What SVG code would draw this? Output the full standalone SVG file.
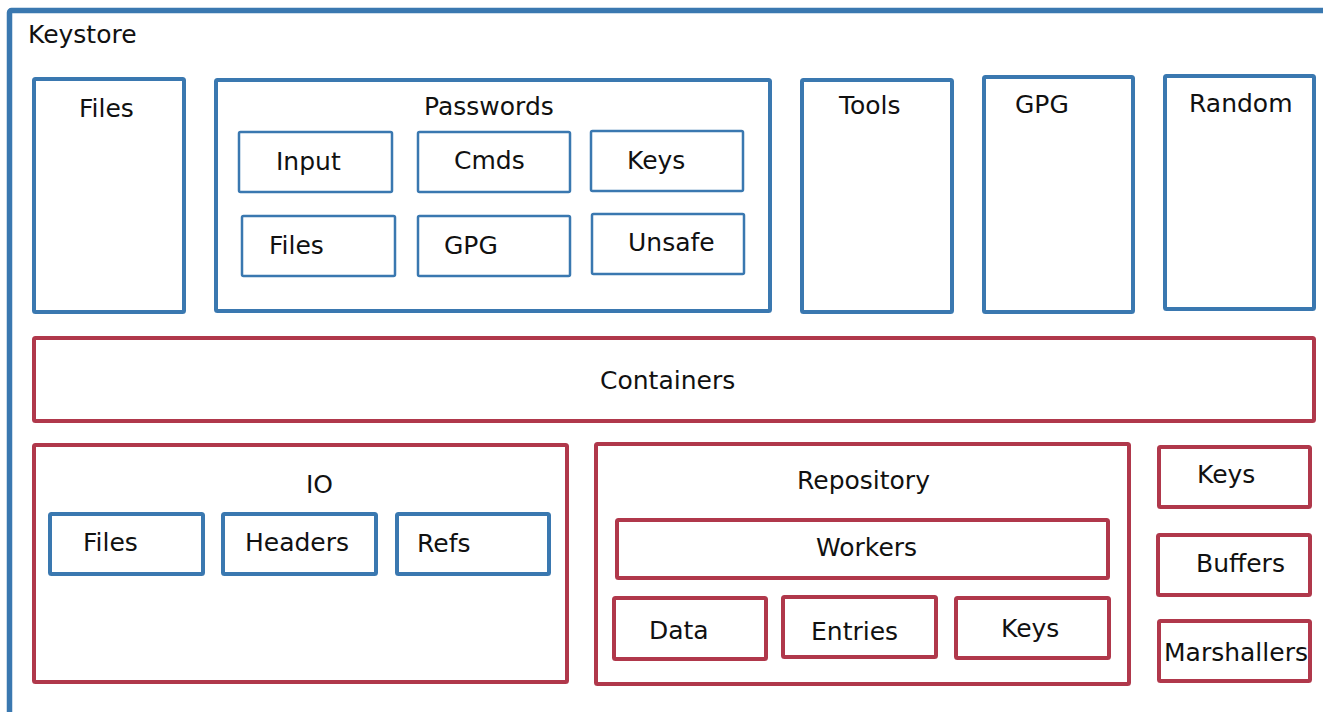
<svg xmlns="http://www.w3.org/2000/svg" width="1323" height="712" viewBox="0 0 1323 712">
  <style>
    text { font-family: "DejaVu Sans", "Liberation Sans", sans-serif; font-size: 25px; fill: #111; }
    .b { fill: #fff; stroke: #3a78b0; stroke-width: 4; }
    .bt { fill: #fff; stroke: #3a78b0; stroke-width: 2.5; }
    .r { fill: #fff; stroke: #b0384b; stroke-width: 4; }
    .frame { fill: #fff; stroke: #3a78b0; stroke-width: 5.5; }
  </style>
  <rect width="1323" height="712" fill="#fff"/>

  <!-- outer keystore frame -->
  <g id="keystore">
    <rect class="frame" x="9.5" y="10.5" width="1360" height="740" rx="2"/>
    <text x="28" y="43">Keystore</text>
  </g>

  <!-- top row -->
  <g id="files">
    <rect class="b" x="34" y="79" width="150" height="233" rx="1.5"/>
    <text x="79" y="117">Files</text>
  </g>
  <g id="passwords">
    <rect class="b" x="216" y="80" width="554" height="231" rx="1.5"/>
    <text x="424" y="115">Passwords</text>
    <g id="pw-input">
      <rect class="bt" x="239" y="132" width="153" height="60" rx="1.5"/>
      <text x="276" y="170">Input</text>
    </g>
    <g id="pw-cmds">
      <rect class="bt" x="418" y="132" width="152" height="60" rx="1.5"/>
      <text x="454" y="169">Cmds</text>
    </g>
    <g id="pw-keys">
      <rect class="bt" x="591" y="131" width="152" height="60" rx="1.5"/>
      <text x="627" y="169">Keys</text>
    </g>
    <g id="pw-files">
      <rect class="bt" x="242" y="216" width="153" height="60" rx="1.5"/>
      <text x="269" y="254">Files</text>
    </g>
    <g id="pw-gpg">
      <rect class="bt" x="418" y="216" width="152" height="60" rx="1.5"/>
      <text x="444" y="254">GPG</text>
    </g>
    <g id="pw-unsafe">
      <rect class="bt" x="592" y="214" width="152" height="60" rx="1.5"/>
      <text x="628" y="251">Unsafe</text>
    </g>
  </g>
  <g id="tools">
    <rect class="b" x="802" y="80" width="150" height="232" rx="1.5"/>
    <text x="839" y="114">Tools</text>
  </g>
  <g id="gpg">
    <rect class="b" x="984" y="77" width="149" height="235" rx="1.5"/>
    <text x="1015" y="113">GPG</text>
  </g>
  <g id="random">
    <rect class="b" x="1165" y="76" width="149" height="233" rx="1.5"/>
    <text x="1189" y="112">Random</text>
  </g>

  <!-- containers layer -->
  <g id="containers">
    <rect class="r" x="34" y="338" width="1280" height="83" rx="1.5"/>
    <text x="600" y="389">Containers</text>
  </g>

  <g id="io">
    <rect class="r" x="34" y="445" width="533" height="237" rx="1.5"/>
    <text x="306" y="493">IO</text>
    <g id="io-files">
      <rect class="b" x="50" y="514" width="153" height="60" rx="1.5"/>
      <text x="83" y="551">Files</text>
    </g>
    <g id="io-headers">
      <rect class="b" x="223" y="514" width="153" height="60" rx="1.5"/>
      <text x="245" y="551">Headers</text>
    </g>
    <g id="io-refs">
      <rect class="b" x="397" y="514" width="152" height="60" rx="1.5"/>
      <text x="417" y="552">Refs</text>
    </g>
  </g>

  <g id="repository">
    <rect class="r" x="596" y="444" width="533" height="240" rx="1.5"/>
    <text x="797" y="489">Repository</text>
    <g id="repo-workers">
      <rect class="r" x="617" y="520" width="491" height="58" rx="1.5"/>
      <text x="816" y="556">Workers</text>
    </g>
    <g id="repo-data">
      <rect class="r" x="614" y="598" width="152" height="61" rx="1.5"/>
      <text x="649" y="639">Data</text>
    </g>
    <g id="repo-entries">
      <rect class="r" x="783" y="597" width="153" height="60" rx="1.5"/>
      <text x="811" y="640">Entries</text>
    </g>
    <g id="repo-keys">
      <rect class="r" x="956" y="598" width="153" height="60" rx="1.5"/>
      <text x="1001" y="637">Keys</text>
    </g>
  </g>

  <g id="keys">
    <rect class="r" x="1159" y="447" width="151" height="60" rx="1.5"/>
    <text x="1197" y="483">Keys</text>
  </g>
  <g id="buffers">
    <rect class="r" x="1158" y="535" width="152" height="60" rx="1.5"/>
    <text x="1196" y="572">Buffers</text>
  </g>
  <g id="marshallers">
    <rect class="r" x="1159" y="621" width="151" height="60" rx="1.5"/>
    <text x="1164" y="661">Marshallers</text>
  </g>

  <!-- no connectors in this layout -->
  <g id="connectors"/>
</svg>
